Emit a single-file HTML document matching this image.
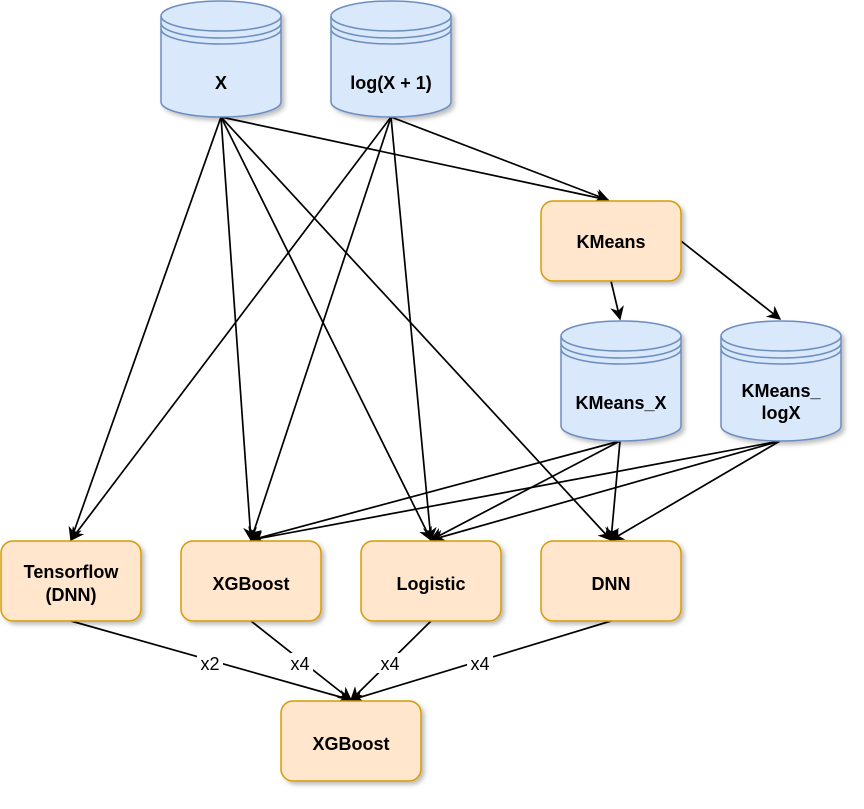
<!DOCTYPE html>
<html><head><meta charset="utf-8"><style>
html,body{margin:0;padding:0;background:#fff}
svg text{font-family:"Liberation Sans",sans-serif;font-weight:bold;font-size:18px;text-anchor:middle;fill:#000}
</style></head><body>
<svg width="864" height="804" viewBox="0 0 864 804" xmlns="http://www.w3.org/2000/svg">
<defs>
<marker id="a" viewBox="0 0 10 10" refX="9" refY="5" markerWidth="14" markerHeight="14" markerUnits="userSpaceOnUse" orient="auto"><path d="M0,0 L10,5 L0,10 L3,5 Z" fill="#000"/></marker>
<filter id="s" x="-20%" y="-20%" width="150%" height="150%"><feDropShadow dx="3" dy="3" stdDeviation="2" flood-color="#000" flood-opacity="0.25"/></filter>
</defs>
<g stroke="#000" stroke-width="1.7" fill="none" marker-end="url(#a)">
<line x1="221" y1="117" x2="71" y2="540"/>
<line x1="221" y1="117" x2="251" y2="540"/>
<line x1="221" y1="117" x2="431" y2="540"/>
<line x1="221" y1="117" x2="611" y2="540"/>
<line x1="221" y1="117" x2="608" y2="200"/>
<line x1="391" y1="117" x2="71" y2="540"/>
<line x1="391" y1="117" x2="251" y2="540"/>
<line x1="391" y1="117" x2="431" y2="540"/>
<line x1="391" y1="117" x2="608" y2="200"/>
<line x1="611" y1="281" x2="620" y2="319"/>
<line x1="681" y1="241" x2="780" y2="319"/>
<line x1="620" y1="441" x2="251" y2="540"/>
<line x1="620" y1="441" x2="431" y2="540"/>
<line x1="620" y1="441" x2="611" y2="540"/>
<line x1="780" y1="441" x2="251" y2="540"/>
<line x1="780" y1="441" x2="431" y2="540"/>
<line x1="780" y1="441" x2="611" y2="540"/>
<line x1="71" y1="621" x2="351" y2="700"/>
<line x1="251" y1="621" x2="351" y2="700"/>
<line x1="431" y1="621" x2="351" y2="700"/>
<line x1="611" y1="621" x2="351" y2="700"/>
</g>
<g>
<rect x="197" y="653" width="26" height="20" fill="#fff"/><text x="210" y="670" style="font-weight:normal;font-size:18px">x2</text>
<rect x="287" y="653" width="26" height="20" fill="#fff"/><text x="300" y="670" style="font-weight:normal;font-size:18px">x4</text>
<rect x="377" y="653" width="26" height="20" fill="#fff"/><text x="390" y="670" style="font-weight:normal;font-size:18px">x4</text>
<rect x="467" y="653" width="26" height="20" fill="#fff"/><text x="480" y="670" style="font-weight:normal;font-size:18px">x4</text>
</g>
<g fill="#dae8fc" stroke="#6c8ebf" stroke-width="1.5" filter="url(#s)">
<path d="M161,16 A60,15 0 0 1 281,16 L281,102 A60,15 0 0 1 161,102 Z"/>
<path d="M331,16 A60,15 0 0 1 451,16 L451,102 A60,15 0 0 1 331,102 Z"/>
<path d="M561,336 A60,15 0 0 1 681,336 L681,426 A60,15 0 0 1 561,426 Z"/>
<path d="M721,336 A60,15 0 0 1 841,336 L841,426 A60,15 0 0 1 721,426 Z"/>
</g>
<g fill="none" stroke="#6c8ebf" stroke-width="1.5">
<path d="M161,16 A60,15 0 0 0 281,16 M161,23 A60,15 0 0 0 281,23 M161,29 A60,15 0 0 0 281,29"/>
<path d="M331,16 A60,15 0 0 0 451,16 M331,23 A60,15 0 0 0 451,23 M331,29 A60,15 0 0 0 451,29"/>
<path d="M561,336 A60,15 0 0 0 681,336 M561,343 A60,15 0 0 0 681,343 M561,349 A60,15 0 0 0 681,349"/>
<path d="M721,336 A60,15 0 0 0 841,336 M721,343 A60,15 0 0 0 841,343 M721,349 A60,15 0 0 0 841,349"/>
</g>
<text x="221" y="89">X</text>
<text x="391" y="89">log(X + 1)</text>
<text x="621" y="409">KMeans_X</text>
<text x="781" y="397">KMeans_</text>
<text x="781" y="419">logX</text>
<g fill="#ffe6cc" stroke="#d79b00" stroke-width="1.5" filter="url(#s)">
<rect x="541" y="201" width="140" height="80" rx="12"/>
<rect x="1" y="541" width="140" height="80" rx="12"/>
<rect x="181" y="541" width="140" height="80" rx="12"/>
<rect x="361" y="541" width="140" height="80" rx="12"/>
<rect x="541" y="541" width="140" height="80" rx="12"/>
<rect x="281" y="701" width="140" height="80" rx="12"/>
</g>
<text x="611" y="248">KMeans</text>
<text x="71" y="578">Tensorflow</text>
<text x="71" y="601">(DNN)</text>
<text x="251" y="590">XGBoost</text>
<text x="431" y="590">Logistic</text>
<text x="611" y="590">DNN</text>
<text x="351" y="750">XGBoost</text>
</svg>
</body></html>
